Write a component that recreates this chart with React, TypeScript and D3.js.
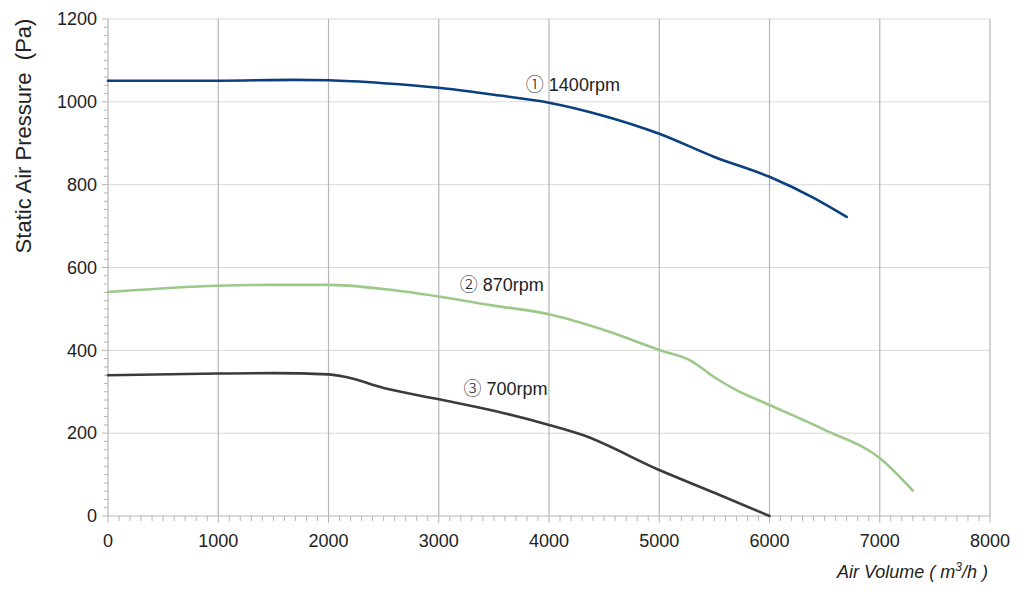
import * as d3 from "d3";
import React, { useRef, useEffect } from "react";

const WIDTH = 1024;
const HEIGHT = 594;

const xTicks = [0, 1000, 2000, 3000, 4000, 5000, 6000, 7000, 8000];
const yTicks = [0, 200, 400, 600, 800, 1000, 1200];

// series (m³/h, Pa)
const airVolume1400 = [0, 1000, 1700, 2000, 2500, 3000, 3500, 4000, 4500, 5000, 5500, 6000, 6400, 6700];
const pressure1400 = [1051, 1051, 1053, 1052, 1045, 1034, 1017, 998, 966, 923, 867, 819, 768, 722];

const airVolume870 = [0, 1000, 1500, 2000, 2500, 3000, 3500, 4000, 4500, 5000, 5300, 5500, 5700, 6000, 6500, 7000, 7300];
const pressure870 = [541, 556, 558, 558, 548, 530, 508, 487, 449, 401, 373, 335, 304, 268, 208, 140, 61];

const airVolume700 = [0, 1000, 1500, 2000, 2150, 2500, 3000, 3500, 4000, 4300, 5000, 5500, 6000];
const pressure700 = [340, 344, 345, 342, 336, 309, 282, 254, 220, 196, 111, 56, 0];

const seriesMarks = ["①", "②", "③"];
const seriesNames = ["1400rpm", "870rpm", "700rpm"];
const seriesColors = ["#0b3f7e", "#9cc98a", "#3b3b3b"];

const margin = { left: 108, right: 34, top: 19, bottom: 78 };

export default function App() {
  const svgRef = useRef<SVGSVGElement>(null);

  useEffect(() => {
    if (!svgRef.current) return;
    const svg = d3.select(svgRef.current);
    svg.selectAll("*").remove();

    const x = d3.scaleLinear([0, 8000], [margin.left, WIDTH - margin.right]);
    const y = d3.scaleLinear([0, 1200], [HEIGHT - margin.bottom, margin.top]);
    const font = "'Liberation Sans', Arial, sans-serif";

    // horizontal grid
    svg
      .append("g")
      .selectAll("line")
      .data(yTicks.slice(1))
      .join("line")
      .attr("x1", x(0))
      .attr("x2", x(8000))
      .attr("y1", (d) => y(d))
      .attr("y2", (d) => y(d))
      .attr("stroke", "#d9d9d9")
      .attr("stroke-width", 1);

    // vertical grid
    svg
      .append("g")
      .selectAll("line")
      .data(xTicks.slice(1))
      .join("line")
      .attr("x1", (d) => x(d))
      .attr("x2", (d) => x(d))
      .attr("y1", y(0))
      .attr("y2", y(1200))
      .attr("stroke", "#b5b5b5")
      .attr("stroke-width", 1.2);

    // y axis
    const yAxis = svg.append("g").attr("transform", `translate(${x(0)},0)`);
    yAxis
      .append("line")
      .attr("y1", y(0))
      .attr("y2", y(1200))
      .attr("stroke", "#b5b5b5")
      .attr("stroke-width", 1.2);
    yAxis
      .selectAll("line.minor")
      .data(d3.range(0, 1201, 20))
      .join("line")
      .attr("class", "minor")
      .attr("x1", (d) => (d % 200 === 0 ? -6 : -4))
      .attr("x2", 0)
      .attr("y1", (d) => y(d))
      .attr("y2", (d) => y(d))
      .attr("stroke", "#b5b5b5");
    yAxis
      .selectAll("text")
      .data(yTicks)
      .join("text")
      .attr("x", -11)
      .attr("y", (d) => y(d))
      .attr("dy", "0.35em")
      .attr("text-anchor", "end")
      .attr("font-family", font)
      .attr("font-size", 18)
      .attr("fill", "#222")
      .text((d) => String(d));

    // x axis
    const xAxis = svg.append("g").attr("transform", `translate(0,${y(0)})`);
    xAxis
      .append("line")
      .attr("x1", x(0))
      .attr("x2", x(8000))
      .attr("stroke", "#b5b5b5")
      .attr("stroke-width", 1.2);
    xAxis
      .selectAll("line.minor")
      .data(d3.range(0, 8001, 100))
      .join("line")
      .attr("class", "minor")
      .attr("x1", (d) => x(d))
      .attr("x2", (d) => x(d))
      .attr("y1", 0)
      .attr("y2", (d) => (d % 1000 === 0 ? 7 : 5))
      .attr("stroke", "#b5b5b5");
    xAxis
      .selectAll("text")
      .data(xTicks)
      .join("text")
      .attr("x", (d) => x(d))
      .attr("y", 31)
      .attr("text-anchor", "middle")
      .attr("font-family", font)
      .attr("font-size", 18)
      .attr("fill", "#222")
      .text((d) => String(d));

    // curves
    const allSeries = [
      { xs: airVolume1400, ys: pressure1400 },
      { xs: airVolume870, ys: pressure870 },
      { xs: airVolume700, ys: pressure700 },
    ];
    const line = d3
      .line<[number, number]>()
      .curve(d3.curveMonotoneX)
      .x((d) => x(d[0]))
      .y((d) => y(d[1]));

    allSeries.forEach((s, i) => {
      const pts = s.xs.map((v, j) => [v, s.ys[j]] as [number, number]);
      svg
        .append("path")
        .attr("d", line(pts))
        .attr("fill", "none")
        .attr("stroke", seriesColors[i])
        .attr("stroke-width", 2.6)
        .attr("stroke-linecap", "round");
    });

    // series labels
    const labelPos: [number, number][] = [
      [3790, 1026],
      [3190, 543],
      [3225, 293],
    ];
    labelPos.forEach((p, i) => {
      const t = svg
        .append("text")
        .attr("x", x(p[0]))
        .attr("y", y(p[1]))
        .attr("font-family", font)
        .attr("font-size", 18)
        .attr("fill", "#222");
      t.append("tspan")
        .attr("font-family", "'Noto Sans CJK SC', sans-serif")
        .attr("font-weight", 300)
        .text(seriesMarks[i]);
      t.append("tspan").attr("dx", 5).text(seriesNames[i]);
    });

    // axis titles
    svg
      .append("text")
      .attr("transform", `translate(31,136) rotate(-90)`)
      .attr("text-anchor", "middle")
      .attr("font-family", font)
      .attr("font-size", 22)
      .attr("fill", "#222")
      .style("white-space", "pre")
      .text("Static Air Pressure  (Pa)");

    const xTitle = svg
      .append("text")
      .attr("x", x(8000) - 2)
      .attr("y", 578)
      .attr("text-anchor", "end")
      .attr("font-family", font)
      .attr("font-size", 18)
      .attr("font-style", "italic")
      .attr("fill", "#222");
    xTitle.append("tspan").text("Air Volume ( m");
    xTitle.append("tspan").attr("font-size", 12).attr("dy", -7).text("3");
    xTitle.append("tspan").attr("dy", 7).text("/h )");
  }, []);

  return (
    <svg
      ref={svgRef}
      width={WIDTH}
      height={HEIGHT}
      style={{ position: "absolute", left: 0, top: 0, background: "#fff" }}
    />
  );
}
